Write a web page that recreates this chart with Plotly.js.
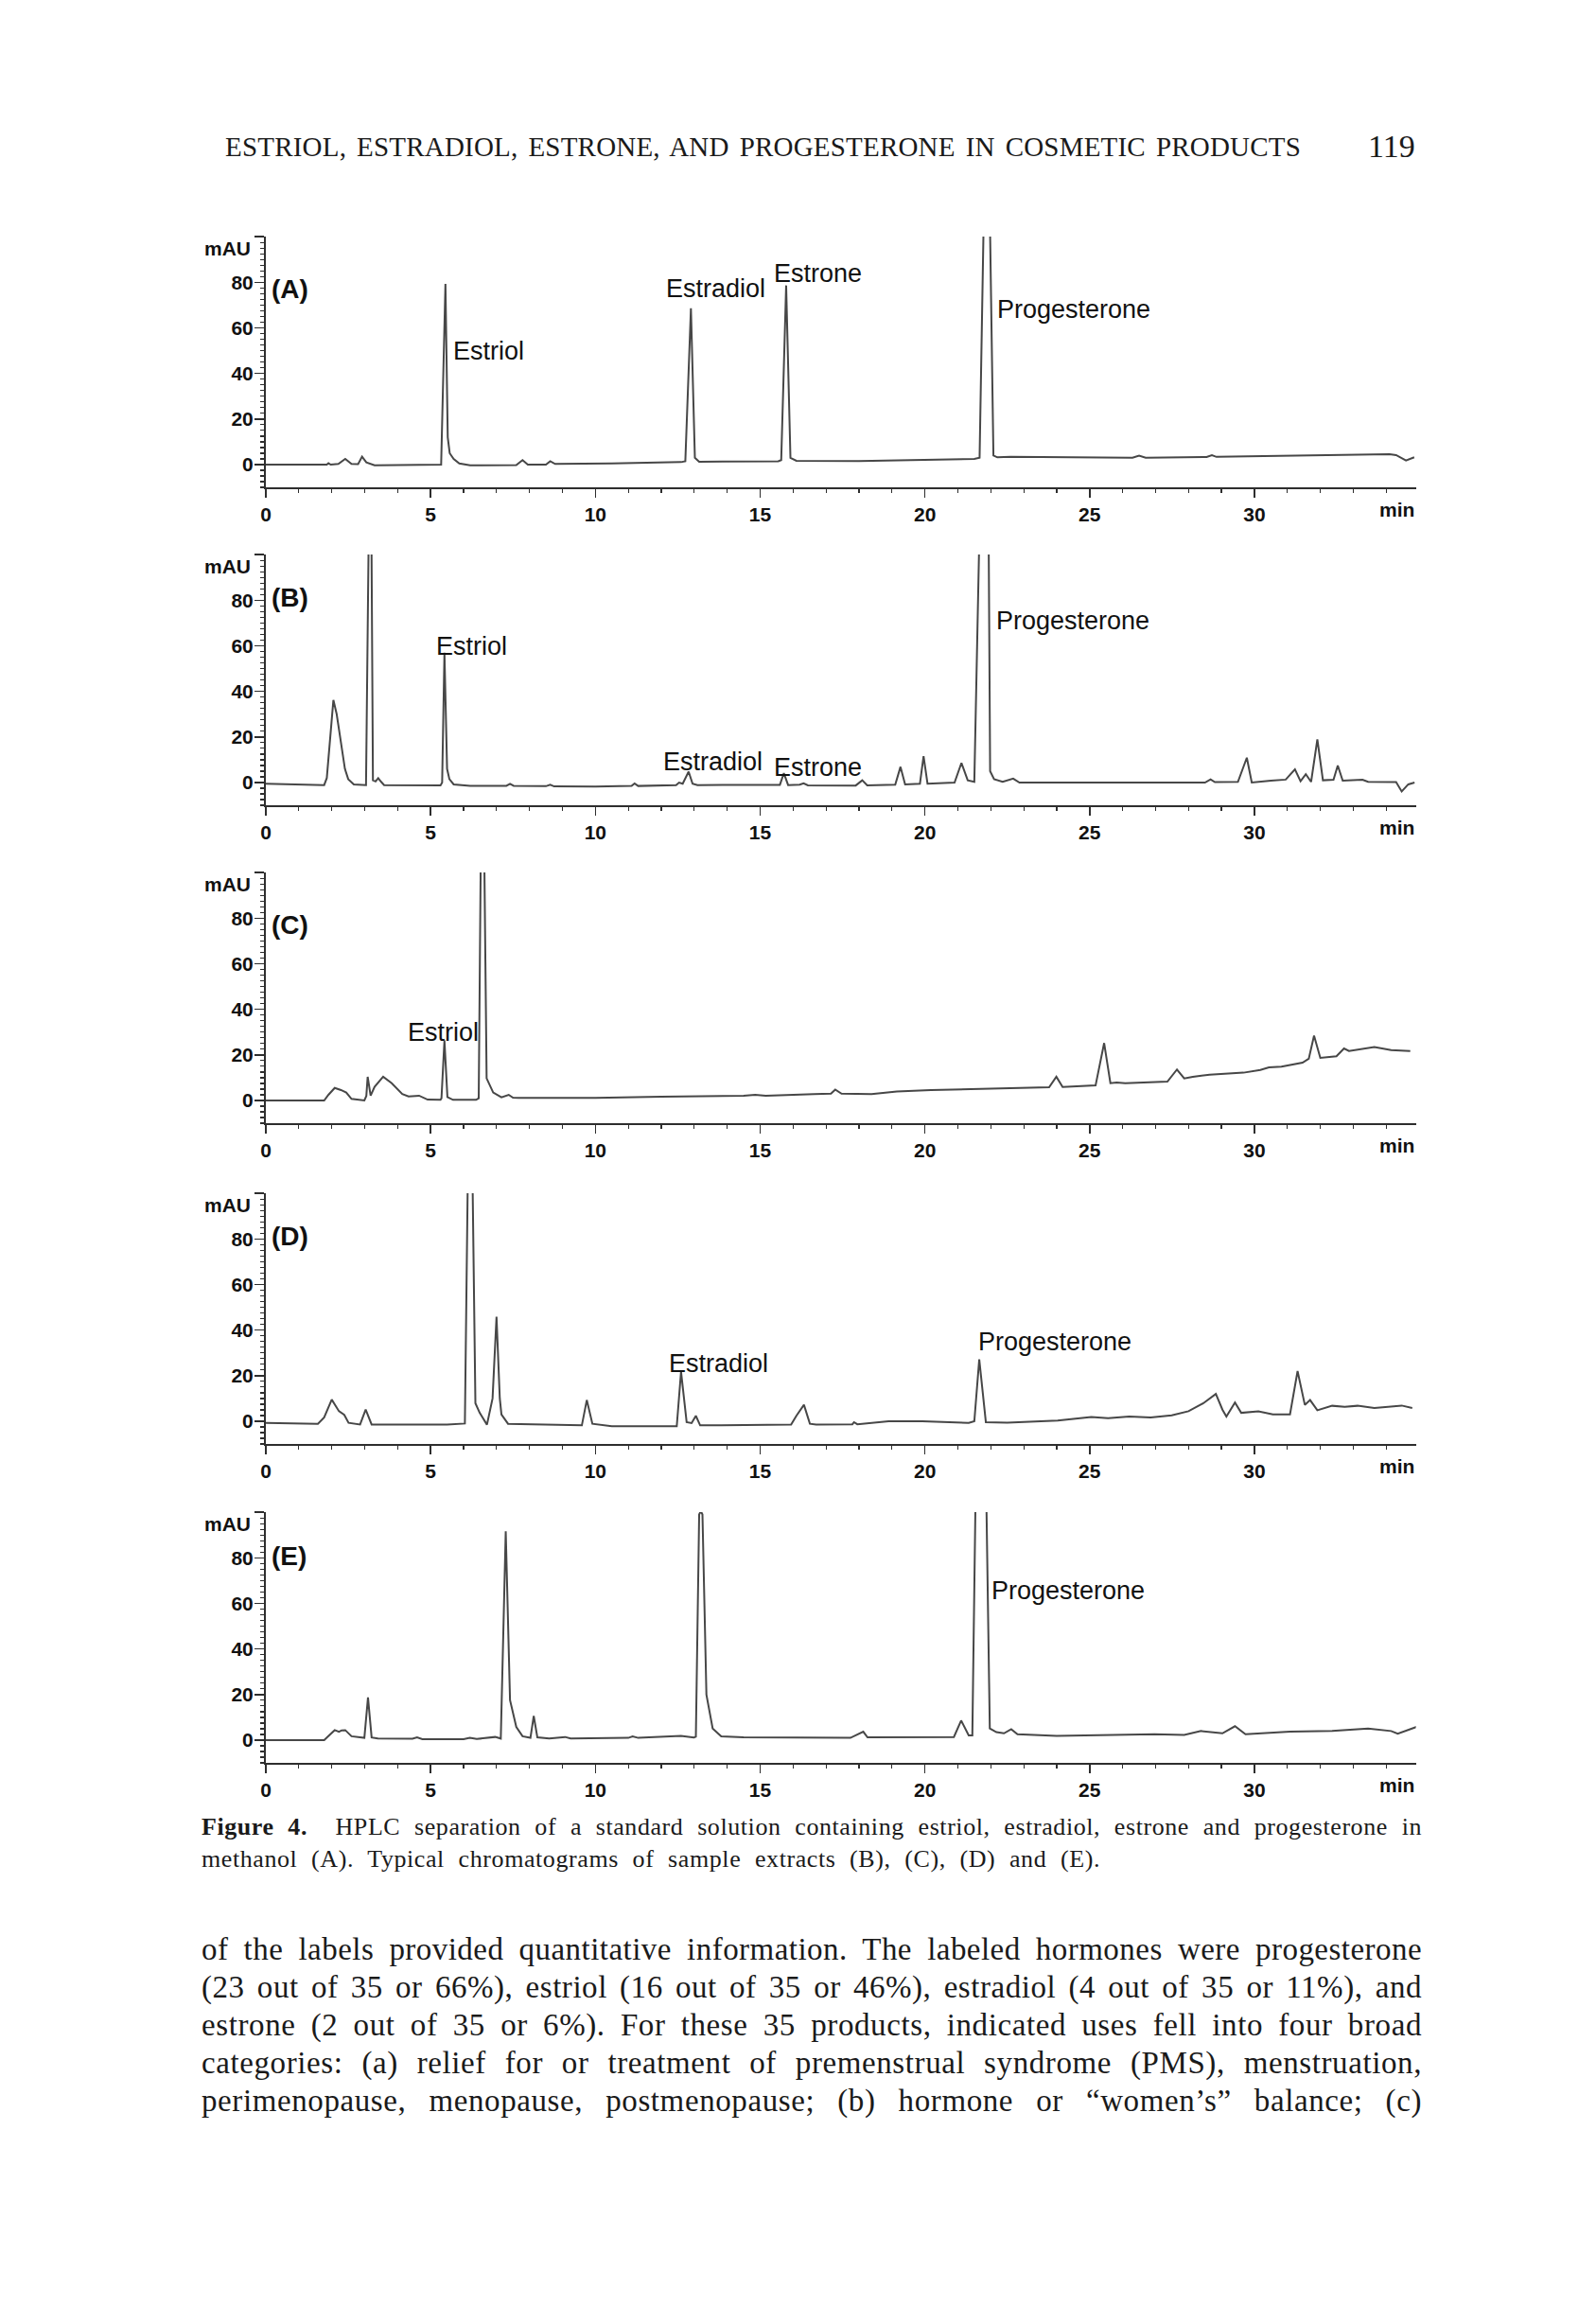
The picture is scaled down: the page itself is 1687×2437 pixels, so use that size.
<!DOCTYPE html>
<html><head><meta charset="utf-8">
<script src="https://cdn.plot.ly/plotly-3.0.1.min.js"></script>
<style>
html,body{margin:0;padding:0;background:#fff;}
body{width:1687px;height:2437px;position:relative;overflow:hidden;}
#chart{position:absolute;left:0;top:0;width:1687px;height:1950px;}
.txt{position:absolute;white-space:nowrap;font-family:'Liberation Serif','Times New Roman',serif;color:#1a1a1a;}
</style></head><body>
<div id="chart"></div>
<div class="txt fit" data-w="1137" style="left:238px;top:138px;font-size:29px;line-height:35px;">ESTRIOL, ESTRADIOL, ESTRONE, AND PROGESTERONE IN COSMETIC PRODUCTS</div>
<div class="txt" style="left:1446px;top:135px;font-size:34px;line-height:40px;">119</div>
<div class="txt fit" data-w="1290" style="left:213px;top:1915px;font-size:26px;line-height:31px;"><b>Figure 4.</b>&nbsp; HPLC separation of a standard solution containing estriol, estradiol, estrone and progesterone in</div>
<div class="txt fit" data-w="950" style="left:213px;top:1949px;font-size:26px;line-height:31px;">methanol (A). Typical chromatograms of sample extracts (B), (C), (D) and (E).</div>
<div class="txt fit" data-w="1290" style="left:213px;top:2041px;font-size:33px;line-height:39px;">of the labels provided quantitative information. The labeled hormones were progesterone</div>
<div class="txt fit" data-w="1290" style="left:213px;top:2081px;font-size:33px;line-height:39px;">(23 out of 35 or 66%), estriol (16 out of 35 or 46%), estradiol (4 out of 35 or 11%), and</div>
<div class="txt fit" data-w="1290" style="left:213px;top:2121px;font-size:33px;line-height:39px;">estrone (2 out of 35 or 6%). For these 35 products, indicated uses fell into four broad</div>
<div class="txt fit" data-w="1290" style="left:213px;top:2161px;font-size:33px;line-height:39px;">categories: (a) relief for or treatment of premenstrual syndrome (PMS), menstruation,</div>
<div class="txt fit" data-w="1290" style="left:213px;top:2201px;font-size:33px;line-height:39px;">perimenopause, menopause, postmenopause; (b) hormone or “women’s” balance; (c)</div>
<script>
// ---------- data (time in min, absorbance in mAU) ----------
const timeA = [0,1.85,1.9,1.97,2.2,2.41,2.6,2.8,2.92,3.05,3.3,5.25,5.32,5.45,5.52,5.58,5.7,5.87,6.2,7.6,7.79,7.95,8.5,8.63,8.78,10.5,12.6,12.73,12.9,13.02,13.15,15.55,15.64,15.79,15.92,16.1,18,21.5,21.66,21.8,21.96,22.08,22.2,22.6,24,26.3,26.5,26.7,28.55,28.71,28.85,31,33.5,34.1,34.3,34.6,34.85];
const mauA  = [0,0,0.6,0,0.3,2.5,0.3,0.2,3.5,1,-0.3,-0.3,0,79.3,12,5,2.5,0.5,-0.3,-0.2,2,0,0,1.5,0.3,0.5,1.1,1.5,68.6,3,1.3,1.5,2,78.6,3,1.7,1.6,2.5,3,120,120,4,3.2,3.4,3.2,3.0,3.9,3.0,3.3,4.1,3.4,4,4.6,4.6,4.2,1.8,3.2];

const timeB = [0,1,1.77,1.85,1.95,2.05,2.15,2.28,2.4,2.5,2.67,3.04,3.13,3.2,3.25,3.33,3.41,3.5,3.59,5.3,5.35,5.42,5.5,5.57,5.7,6.2,7.3,7.41,7.52,8.5,8.63,8.75,10,11.1,11.19,11.3,12.45,12.54,12.65,12.83,12.95,13.1,14,14.5,15,15.6,15.72,15.85,16.2,16.32,16.45,17.9,18.1,18.25,19.1,19.26,19.4,19.85,19.96,20.08,20.9,21.11,21.3,21.5,21.67,21.93,21.98,22.1,22.36,22.68,22.87,24,26.33,28.5,28.67,28.8,29.5,29.77,29.92,30.5,30.95,31.23,31.4,31.56,31.72,31.91,32.08,32.4,32.53,32.68,33.28,33.45,34.3,34.47,34.67,34.86];
const mauB  = [-0.5,-0.8,-1.1,2,20,36.2,30,18,6,1.5,-0.8,-1.1,120,120,1,0.5,1.9,0.3,-1.1,-1.2,0,57,6,1.5,-0.8,-1.4,-1.4,-0.6,-1.4,-1.6,-1.0,-1.7,-1.8,-1.5,-0.4,-1.5,-1.1,0,-0.5,4.8,-0.5,-1.1,-1.1,-0.9,-1.1,-1.0,4.1,-1.1,-0.9,-0.3,-1.2,-1.3,1,-1.2,-0.9,6.9,-0.8,-0.5,11.6,-0.5,0,8.6,1.0,0.3,120,120,5,1.5,0.3,1.7,0,-0.1,0,0,1.4,0.2,0.3,10.9,0,0.8,1.3,5.8,0.6,3.7,0.3,18.9,1.0,1.2,7.5,0.8,1.2,0.3,0.2,-3.9,-0.8,0];

const timeC = [0,1.77,1.9,2.09,2.28,2.44,2.6,2.99,3.05,3.09,3.18,3.3,3.56,3.82,4.14,4.33,4.65,4.91,5.3,5.33,5.42,5.51,5.68,6.38,6.46,6.53,6.62,6.7,6.9,7.15,7.37,7.5,7.67,10,12,14.5,14.85,15.17,16.64,17.15,17.28,17.47,18.38,19.15,20.18,22.1,23.77,23.99,24.18,25.18,25.44,25.63,25.82,26.08,27.36,27.65,27.87,28.13,28.64,29.67,30.18,30.44,30.82,31.46,31.65,31.81,32.0,32.49,32.72,32.87,33.64,34.15,34.73];
const mauC  = [0,0,2.5,5.5,4.6,3.5,0.7,0,2,10.4,2.1,6,10.4,7.6,2.8,1.8,2.1,0.4,0.3,1,26.3,1.5,0.3,0.3,1,120,120,9.7,3.5,1.4,2.5,1.2,1.1,1.1,1.7,2.1,2.5,2.1,2.8,3.0,4.8,3.0,2.8,3.9,4.6,5.3,5.8,10.4,5.9,6.6,25.2,7.6,7.9,7.6,8.3,13.6,9.7,10.4,11.3,12.2,13.4,14.5,14.8,16.6,18.3,28.4,18.7,19.4,22.8,21.7,23.5,22.1,21.7];

const timeD = [0,1.58,1.77,2.0,2.22,2.38,2.51,2.86,3.03,3.21,5.5,5.87,6.04,6.14,6.26,6.36,6.49,6.71,6.88,7.0,7.1,7.15,7.35,9.59,9.74,9.91,10.5,12.47,12.6,12.77,12.92,13.05,13.18,15.94,16.1,16.33,16.51,16.7,17.8,17.85,17.95,18.9,19.92,21.33,21.5,21.65,21.85,22.5,24.03,25.05,25.56,26.2,26.85,27.49,28.0,28.45,28.83,29.03,29.15,29.41,29.6,30.12,30.56,31.08,31.31,31.53,31.69,31.91,32.36,32.74,33.13,33.64,34.47,34.79];
const mauD  = [-0.7,-1.1,1.7,9.5,4.4,2.8,-0.7,-1.4,5.1,-1.4,-1.5,-1.1,-1,120,120,7.9,3.7,-1.5,10,45.9,10,3,-1.1,-1.8,9.3,-1.1,-2.2,-2.2,21.7,-0.4,-0.8,2.4,-1.8,-1.5,2.4,7.2,-1.1,-1.4,-1.3,-0.4,-1.3,0,0,-0.7,0,27.2,-0.4,-0.6,0.3,1.9,1.4,2.1,1.7,2.6,4.4,7.9,12,5.1,2.1,8.2,3.7,4.4,3.0,3.0,22,7.2,9.3,4.8,6.8,6.3,6.8,5.8,6.9,5.8];

const timeE = [0,1.77,1.95,2.09,2.22,2.3,2.41,2.6,2.99,3.1,3.21,3.4,4.45,4.59,4.75,6.0,6.19,6.4,6.96,7.13,7.28,7.41,7.6,7.79,8.03,8.13,8.24,8.6,9.08,9.25,11.0,11.13,11.3,12.6,12.99,13.05,13.15,13.2,13.25,13.37,13.56,13.82,14.5,16.33,17.74,18.13,18.26,20.88,21.1,21.33,21.44,21.55,21.85,21.97,22.17,22.4,22.62,22.81,24,26.97,27.87,28.38,29.03,29.41,29.73,31.08,32.36,33.45,34.15,34.35,34.92];
const mauE  = [0,0,2.5,4.4,3.7,4.3,4.4,1.7,1.0,18.7,1.2,0.7,0.6,1.2,0.4,0.4,1.0,0.5,1.4,0.7,91.6,17.6,5.8,1.7,1.0,10.6,1.2,0.7,1.4,0.7,1.0,1.6,1.0,1.9,1.2,1.5,99,100.5,99,20,5.1,1.7,1.2,1.0,1.0,3.7,1.2,1.4,8.6,2.1,2.1,120,120,5.1,3.5,3.0,4.8,2.6,1.9,2.6,2.3,4.0,3.0,6.1,2.6,3.7,4.1,5.1,4.0,2.8,5.8];

const panelNames = ['(A)','(B)','(C)','(D)','(E)'];
const peakNamesA = ['Estriol','Estradiol','Estrone','Progesterone'];
const peakNamesB = ['Estriol','Estradiol','Estrone','Progesterone'];
const peakNamesC = ['Estriol'];
const peakNamesD = ['Estradiol','Progesterone'];
const peakNamesE = ['Progesterone'];
const yTickVals = [0,20,40,60,80,100];
const yTickText = ['0','20','40','60','80',''];
const yUnit = 'mAU';
const xUnit = 'min';

// ---------- layout (pixel geometry) ----------
const H = 1950;
const zeroPx = [491, 827, 1163, 1502, 1839];
const xDom = [281/1687, 1496.6/1687];
// label anchor positions (time, mAU) for each panel
const labelPos = [
  [[5.64,50],[12.08,77.2],[15.35,83.7],[22.13,68]],
  [[5.1,59.8],[12.0,9.3],[15.35,6.5],[22.1,71.1]],
  [[4.24,29.7]],
  [[12.18,25.2],[21.56,34.9]],
  [[21.97,65.7]]
];
const panelLabelY = [76.8,81.2,76.8,81.2,80.9];

const series = [[timeA,mauA],[timeB,mauB],[timeC,mauC],[timeD,mauD],[timeE,mauE]];
const peakNames = [peakNamesA,peakNamesB,peakNamesC,peakNamesD,peakNamesE];

const axCol = '#2e2e2e';
const tfont = {family:'Liberation Sans, Arial, sans-serif', size:21, color:'#111', weight:'bold'};
const lfont = {family:'Liberation Sans, Arial, sans-serif', size:27, color:'#111'};
const pfont = {family:'Liberation Sans, Arial, sans-serif', size:28, color:'#111', weight:'bold'};

const data = [];
const layout = {
  width:1687, height:H, margin:{l:0,r:0,t:0,b:0},
  paper_bgcolor:'rgba(0,0,0,0)', plot_bgcolor:'rgba(0,0,0,0)',
  showlegend:false, annotations:[]
};

series.forEach((s,i)=>{
  const n = i+1;
  const xa = 'x'+(n===1?'':n), ya = 'y'+(n===1?'':n);
  const xk = 'xaxis'+(n===1?'':n), yk = 'yaxis'+(n===1?'':n);
  data.push({x:s[0], y:s[1], type:'scatter', mode:'lines', xaxis:xa, yaxis:ya,
    line:{color:'#474747', width:2}, hoverinfo:'skip'});
  const Z = zeroPx[i];
  const top = Z - 240.9, bot = Z + 24.1;
  layout[xk] = {domain:xDom, anchor:ya, range:[0,34.9], showgrid:false, zeroline:false,
    showline:true, linecolor:axCol, linewidth:2, ticks:'outside', ticklen:9, tickwidth:1.5,
    tickcolor:axCol, tick0:0, dtick:5, tickfont:tfont, fixedrange:true,
    minor:{ticks:'outside', tick0:0, dtick:1, ticklen:4, tickwidth:1.2, tickcolor:axCol, showgrid:false}};
  layout[yk] = {domain:[1-bot/H, 1-top/H], anchor:xa, range:[-10,100], showgrid:false, zeroline:false,
    showline:true, linecolor:axCol, linewidth:2, ticks:'outside', ticklen:10, tickwidth:1.5,
    tickcolor:axCol, tickmode:'array', tickvals:yTickVals, ticktext:yTickText, tickfont:tfont,
    ticklabelstandoff:-3, fixedrange:true,
    minor:{ticks:'outside', tick0:0, dtick:2.5, ticklen:4, tickwidth:1.2, tickcolor:axCol, showgrid:false}};
  // unit labels
  layout.annotations.push({xref:xa+' domain', yref:ya, x:0, y:95, xanchor:'right', yanchor:'middle',
    xshift:-14, text:yUnit, showarrow:false, font:tfont});
  layout.annotations.push({xref:xa+' domain', yref:ya+' domain', x:1, y:0, xanchor:'right', yanchor:'middle',
    yshift:-23, text:xUnit, showarrow:false, font:tfont});
  // panel letter
  layout.annotations.push({xref:xa, yref:ya, x:0.12, y:panelLabelY[i], xanchor:'left', yanchor:'middle',
    text:panelNames[i], showarrow:false, font:pfont});
  // compound labels
  peakNames[i].forEach((nm,k)=>{
    layout.annotations.push({xref:xa, yref:ya, x:labelPos[i][k][0], y:labelPos[i][k][1],
      xanchor:'left', yanchor:'middle', text:nm, showarrow:false, font:lfont});
  });
});

Plotly.newPlot('chart', data, layout, {staticPlot:true, displayModeBar:false});

function fitLines(){
  document.querySelectorAll('.fit').forEach(el=>{
    el.style.wordSpacing = '0px';
    el.style.letterSpacing = '0px';
    const w = el.getBoundingClientRect().width;
    const target = parseFloat(el.dataset.w);
    const txt = el.textContent;
    const spaces = (txt.match(/[ \u00a0]/g)||[]).length;
    const chars = txt.length;
    const extra = target - w;
    let ls = Math.max(-0.5, Math.min(0.6, extra*0.35/chars));
    el.style.letterSpacing = ls + 'px';
    const w2 = el.getBoundingClientRect().width;
    if (spaces>0) el.style.wordSpacing = ((target - w2)/spaces) + 'px';
  });
}
fitLines();
if (document.fonts && document.fonts.ready) document.fonts.ready.then(fitLines);
</script>
</body></html>
